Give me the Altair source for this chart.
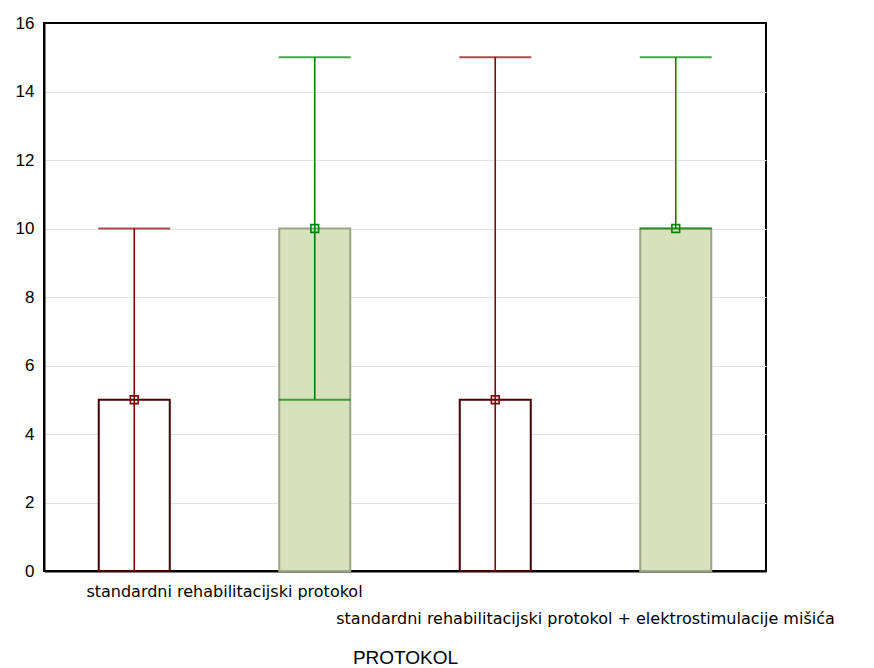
import altair as alt
import pandas as pd

protokol = [
    "standardni rehabilitacijski protokol",
    "standardni rehabilitacijski protokol",
    "standardni rehabilitacijski protokol + elektrostimulacije mišića",
    "standardni rehabilitacijski protokol + elektrostimulacije mišića",
]
series = ["Varijabla 1", "Varijabla 2", "Varijabla 1", "Varijabla 2"]
box_low = [0, 0, 0, 0]
box_high = [5, 10, 5, 10]
whisk_low = [0, 5, 0, 10]
whisk_high = [10, 15, 15, 15]
median = [5, 10, 5, 10]

cat_order = [
    "standardni rehabilitacijski protokol",
    "standardni rehabilitacijski protokol + elektrostimulacije mišića",
]
ser_order = ["Varijabla 1", "Varijabla 2"]
y_ticks = [0, 2, 4, 6, 8, 10, 12, 14, 16]

df = pd.DataFrame({
    "protokol": protokol, "series": series,
    "blow": box_low, "bhigh": box_high,
    "wlow": whisk_low, "whigh": whisk_high, "med": median,
})

FONT = "Liberation Sans"

x = alt.X("protokol:N", sort=cat_order,
          scale=alt.Scale(paddingInner=0, paddingOuter=0),
          axis=alt.Axis(title="PROTOKOL", labelAngle=0, ticks=False,
                        domain=True, domainColor="black", domainWidth=2,
                        labelPadding=12, labelFontSize=16, labelFont="DejaVu Sans",
                        labelColor="black", labelLimit=1000, labelLineHeight=27,
                        labelBaseline="top",
                        labelExpr="indexof(datum.label, '+') > -1 ? ['', datum.label] : datum.label",
                        titleFont=FONT, titleFontSize=19, titleFontWeight="normal",
                        titleColor="black", titlePadding=22))
xo = alt.XOffset("series:N", sort=ser_order,
                 scale=alt.Scale(paddingInner=0, paddingOuter=0))

yscale = alt.Scale(domain=[0, 16], nice=False)
yaxis = alt.Axis(title=None, values=y_ticks, ticks=False,
                 domain=True, domainColor="black", domainWidth=2,
                 labelPadding=10, labelFontSize=17, labelFont=FONT,
                 labelColor="black", grid=True, gridColor="#e3e3e3", gridWidth=1,
                 gridOpacity={"condition": {"test": "datum.value == 0 || datum.value == 16", "value": 0}, "value": 1})

base = alt.Chart(df)

boxes = base.mark_bar(size=71, strokeWidth=2).encode(
    x=x, xOffset=xo,
    y=alt.Y("blow:Q", scale=yscale, axis=yaxis),
    y2="bhigh:Q",
    fill=alt.Fill("series:N", scale=alt.Scale(domain=ser_order, range=["#ffffff", "#d6e2bc"]), legend=None),
    stroke=alt.Stroke("series:N", scale=alt.Scale(domain=ser_order, range=["#4a0000", "#9ba586"]), legend=None),
)

wcolor = alt.Color("series:N", scale=alt.Scale(domain=ser_order, range=["#840000", "#008000"]), legend=None)

whiskers = base.mark_rule(strokeWidth=1.6).encode(
    x=x, xOffset=xo, y=alt.Y("wlow:Q", scale=yscale), y2="whigh:Q", color=wcolor)

caps_hi = base.mark_tick(size=72, thickness=2).encode(
    x=x, xOffset=xo, y=alt.Y("whigh:Q", scale=yscale), color=wcolor)

caps_lo = base.transform_filter("datum.wlow > datum.blow").mark_tick(size=72, thickness=2).encode(
    x=x, xOffset=xo, y=alt.Y("wlow:Q", scale=yscale), color=wcolor)

meds = base.mark_point(shape="square", size=60, filled=False, strokeWidth=1.6, opacity=1).encode(
    x=x, xOffset=xo, y=alt.Y("med:Q", scale=yscale), color=wcolor)

chart = alt.layer(boxes, whiskers, caps_hi, caps_lo, meds).properties(
    width=722, height=548,
    autosize=alt.AutoSizeParams(type="none"),
    padding={"left": 36, "top": 15, "right": 100, "bottom": 97},
).configure(background="white").configure_view(stroke="black", strokeWidth=2)

chart.save("out.html", embed_options={"renderer": "svg", "actions": False})
